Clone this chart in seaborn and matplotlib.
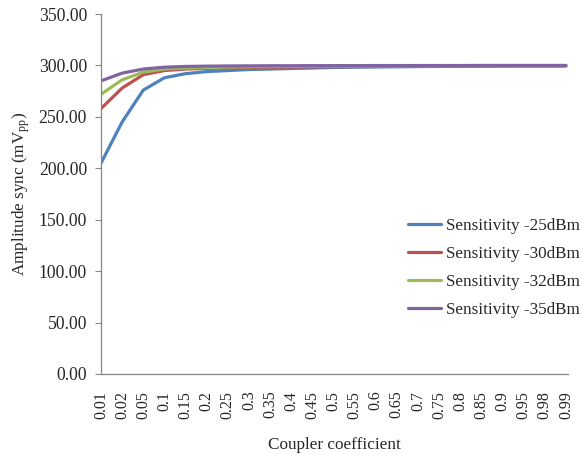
import numpy as np
import pandas as pd
import matplotlib
matplotlib.use("Agg")
import matplotlib.pyplot as plt
import seaborn as sns

categories = ["0.01", "0.02", "0.05", "0.1", "0.15", "0.2", "0.25", "0.3", "0.35", "0.4",
              "0.45", "0.5", "0.55", "0.6", "0.65", "0.7", "0.75", "0.8", "0.85", "0.9",
              "0.95", "0.98", "0.99"]
sens_25 = [205, 245, 276, 288, 292, 294, 295, 296, 296.5, 297, 297.5, 298, 298.3, 298.5, 298.7,
           298.9, 299, 299.2, 299.3, 299.4, 299.5, 299.5, 299.5]
sens_30 = [258, 278, 291, 295, 296.5, 297.2, 297.6, 298, 298.2, 298.4, 298.6, 298.8, 298.9, 299,
           299.1, 299.2, 299.3, 299.4, 299.5, 299.5, 299.6, 299.6, 299.6]
sens_32 = [272, 286, 293.5, 296.5, 297.5, 298, 298.4, 298.7, 298.9, 299, 299.2, 299.3, 299.4,
           299.5, 299.5, 299.6, 299.6, 299.7, 299.7, 299.7, 299.8, 299.8, 299.8]
sens_35 = [285, 292.5, 296.5, 298.3, 299, 299.3, 299.5, 299.6, 299.7, 299.7, 299.8, 299.8, 299.8,
           299.9, 299.9, 299.9, 299.9, 299.9, 300, 300, 300, 300, 300]
series_names = ["Sensitivity -25dBm", "Sensitivity -30dBm", "Sensitivity -32dBm", "Sensitivity -35dBm"]
colors = ["#4F81BD", "#C0504D", "#9BBB59", "#8064A2"]
y_ticks = [0, 50, 100, 150, 200, 250, 300, 350]

rows = []
for name, vals in zip(series_names, [sens_25, sens_30, sens_32, sens_35]):
    for i, v in enumerate(vals):
        rows.append({"x": i, "value": v, "series": name})
df = pd.DataFrame(rows)

sns.set_style("white")
plt.rcParams["font.family"] = ["Liberation Serif", "DejaVu Serif"]
plt.rcParams["mathtext.fontset"] = "custom"
plt.rcParams["mathtext.rm"] = "Liberation Serif"
plt.rcParams["mathtext.it"] = "Liberation Serif:italic"

W, H = 582, 455
fig = plt.figure(figsize=(W / 100, H / 100), dpi=100)
ax = fig.add_axes([101 / W, 1 - 374 / H, (568 - 101) / W, (374 - 14) / H])
sns.lineplot(data=df, x="x", y="value", hue="series", palette=colors, linewidth=2.3,
             ax=ax, legend=True)

ax.set_xlim(0, 22.1)
ax.set_ylim(0, 350)
ax.set_xticks(range(len(categories)))
ax.set_xticklabels(categories, rotation=90, fontsize=11.5)
ax.set_yticks(y_ticks)
ax.set_yticklabels([f"{t:.2f}" for t in y_ticks], fontsize=12.7)
ax.tick_params(axis="y", length=4, width=0.8, color="#868686", left=True, pad=6)
ax.tick_params(axis="x", length=0, pad=12)
for s in ["top", "right"]:
    ax.spines[s].set_visible(False)
for s in ["left", "bottom"]:
    ax.spines[s].set_color("#868686")
    ax.spines[s].set_linewidth(0.9)

ax.set_xlabel("Coupler coefficient", fontsize=12.3, labelpad=13)
ax.set_ylabel("Amplitude sync (mV$_{\\rm pp}$)", fontsize=12.3, labelpad=5)

leg = ax.legend(loc="upper left", bbox_to_anchor=(408 / W, 1 - 218 / H),
                bbox_transform=fig.transFigure, frameon=False, borderpad=0, borderaxespad=0,
                fontsize=12.3, handlelength=1.95, handletextpad=0.25, labelspacing=0.7)
for line in leg.get_lines():
    line.set_linewidth(2.3)

fig.savefig("out.png", dpi=100)
